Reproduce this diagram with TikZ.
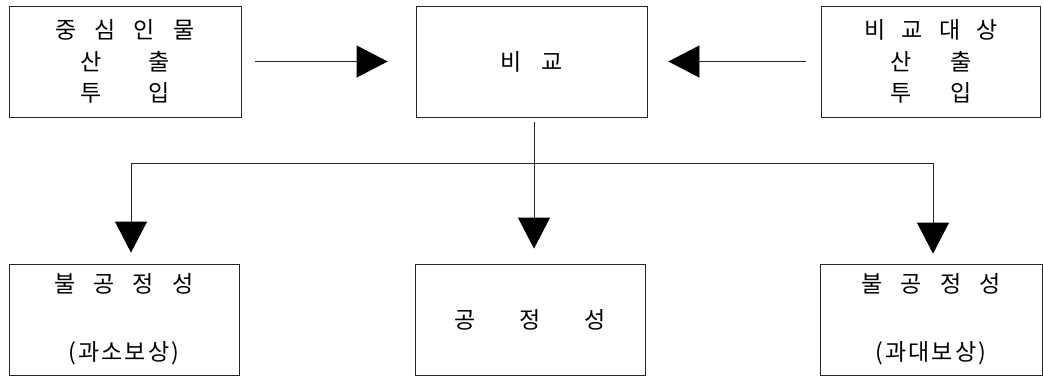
\documentclass[tikz,border=0pt]{standalone}
\usepackage{fontspec}
\setmainfont{Noto Sans CJK KR}
\usetikzlibrary{arrows.meta}
\begin{document}
\begin{tikzpicture}[x=1pt,y=1pt,
  box/.style={draw=black!85,line width=0.8pt,rectangle,inner sep=0pt,minimum height=111pt,align=center,font=\fontsize{23}{31.5}\selectfont},
  lowbox/.style={box,font=\fontsize{23}{34}\selectfont},
  conn/.style={draw=black!85,line width=0.8pt},
  tri/.style={conn,-{Triangle[length=31pt,width=32pt,black]}}]
\useasboundingbox (0,0) rectangle (1044,-376);
\fill[white] (0,0) rectangle (1044,-376);
% top row
\node[box,minimum width=232pt] (b1) at (125,-61.5) {중\hspace{18pt}심\hspace{18pt}인\hspace{18pt}물\\산\hspace{46pt}출\\투\hspace{46pt}입};
\node[box,minimum width=231pt] (b2) at (531.5,-61.5) {비\hspace{20pt}교};
\node[box,minimum width=219pt] (b3) at (931,-61.5) {비\hspace{16pt}교\hspace{16pt}대\hspace{16pt}상\\산\hspace{38pt}출\\투\hspace{38pt}입};
% bottom row
\node[lowbox,minimum width=230pt] (b4) at (124,-319.5) {불\hspace{18pt}공\hspace{18pt}정\hspace{18pt}성\\[0pt]\mbox{}\\(\hspace{2pt}과\hspace{2pt}소\hspace{2pt}보\hspace{2pt}상\hspace{2pt})};
\node[lowbox,minimum width=230pt] (b5) at (530,-319.5) {공\hspace{44pt}정\hspace{44pt}성};
\node[lowbox,minimum width=222pt] (b6) at (931,-319.5) {불\hspace{18pt}공\hspace{18pt}정\hspace{18pt}성\\[0pt]\mbox{}\\(\hspace{2pt}과\hspace{2pt}대\hspace{2pt}보\hspace{2pt}상\hspace{2pt})};
% connectors
\draw[tri,shorten <=14pt,shorten >=28pt] (b1.east) -- (b2.west);
\draw[tri,shorten <=15pt,shorten >=21pt] (b3.west) -- (b2.east);
\coordinate (j) at (534,-163);
\draw[conn,shorten <=5pt] (b2.south -| j) -- (j);
\draw[tri,shorten >=15pt] (j) -- (b5.north -| j);
\draw[tri,shorten >=11pt] (j) -| ([xshift=7pt]b4.north);
\draw[tri,shorten >=10pt] (j) -| ([xshift=2pt]b6.north);
\end{tikzpicture}
\end{document}
